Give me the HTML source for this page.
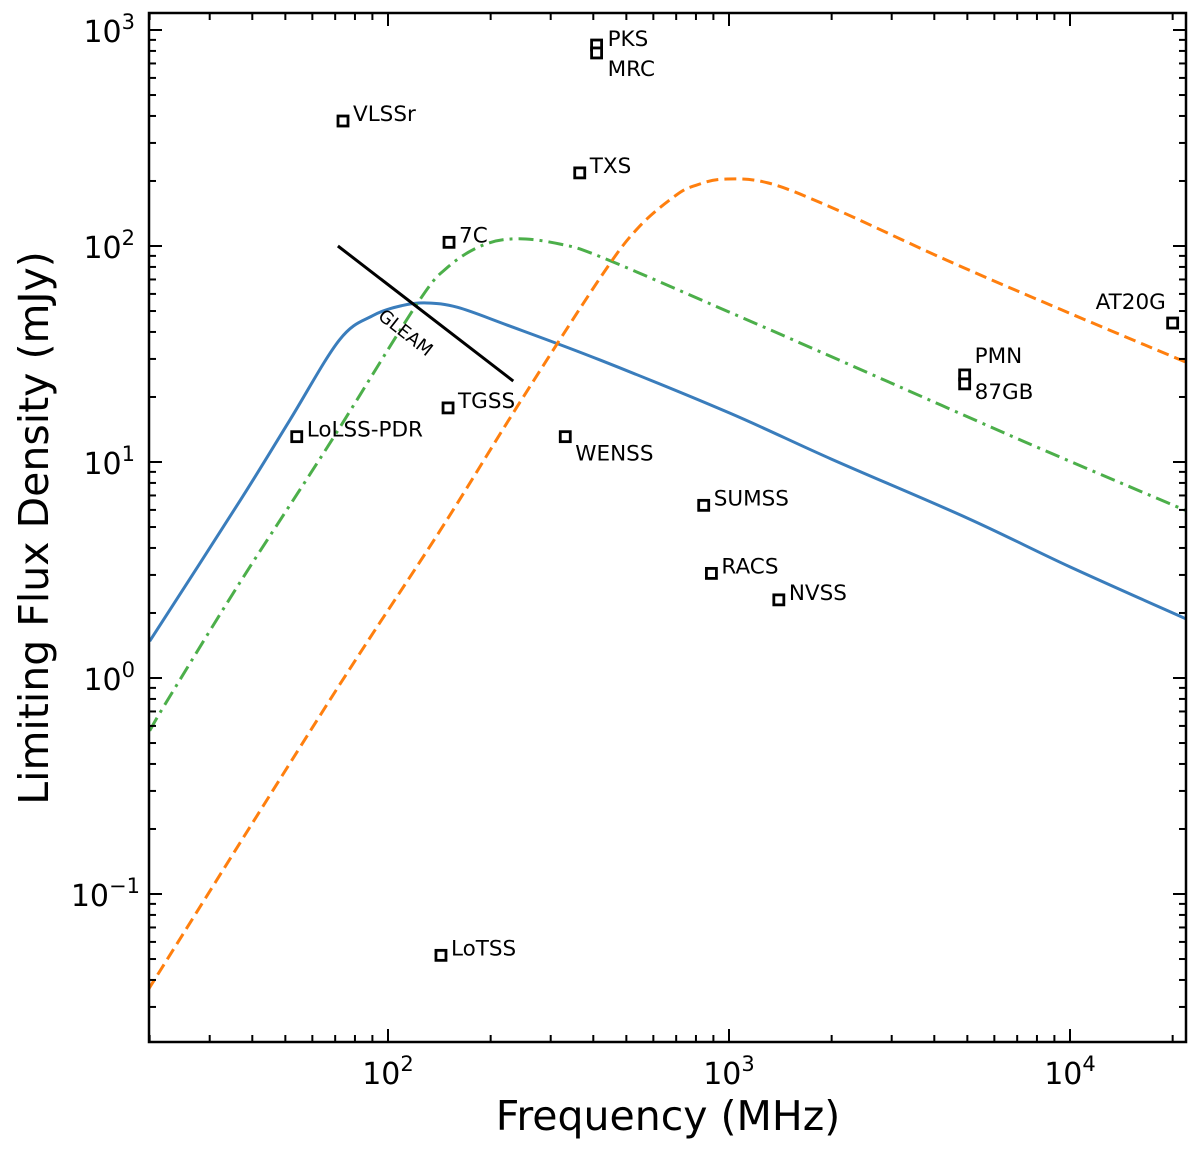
<!DOCTYPE html>
<html><head><meta charset="utf-8"><style>
body{margin:0;background:#fff}
svg{display:block;font-family:"DejaVu Sans","Liberation Sans",sans-serif}
</style></head><body>
<svg id="chart" width="1200" height="1152" viewBox="0 0 1200 1152">
<g id="curves"></g>
<g id="marks"></g>
<g id="axes"></g>
<text x="668" y="1130" font-size="41" text-anchor="middle">Frequency (MHz)</text>
<text transform="translate(48,528) rotate(-90)" font-size="41" text-anchor="middle">Limiting Flux Density (mJy)</text>
</svg>
<script>
const blueF=[20,37,51.5,72,90,110,130,160,224,420,1000,2000,5000,10000,22200];
const blueS=[1.48,6.7,15.6,36.7,47.5,53,54.5,52,43,29.6,16.9,10.3,5.5,3.27,1.86];
const greenF=[20,22.9,36.7,67.5,121.7,150,190,240,320,421,1000,2000,7280,22200];
const greenS=[0.57,0.82,2.75,12.2,54,80,101,108,102,89,49.5,30.7,12.5,5.9];
const orangeF=[19.8,67.5,142,239,421,543,700,800,966,1300,1995,4345,9460,22200];
const orangeS=[0.036,0.79,4.8,18,72,122,172,191,204,196,151,86,50.6,28.7];
const gleamF=[71.3,233];
const gleamS=[100,23.7];
const surveyNames=["VLSSr","PKS","MRC","TXS","7C","TGSS","LoLSS-PDR","WENSS","SUMSS","RACS","NVSS","PMN","87GB","AT20G","LoTSS"];
const surveyF=[73.8,409,409,365,151,150,54,331,843,888,1400,4910,4910,20000,143];
const surveyS=[379,852,783,218,104,17.8,13.1,13.1,6.3,3.05,2.3,25.3,23.0,44,0.052];
const xTickExp=[2,3,4];
const yTickExp=[-1,0,1,2,3];

const L=149,R=1186,T=13,B=1042;
const X=f=>388+341*(Math.log10(f)-2);
const Y=s=>246-216*(Math.log10(s)-2);
const NS="http://www.w3.org/2000/svg";
function mk(tag,attrs,parent){const e=document.createElementNS(NS,tag);for(const k in attrs)e.setAttribute(k,attrs[k]);parent.appendChild(e);return e;}
function path(F,S){
  const p=F.map((f,i)=>[X(f),Y(S[i])]);
  let d="M"+p[0][0]+","+p[0][1];
  for(let i=0;i<p.length-1;i++){
    const p0=p[i-1]||p[i],p1=p[i],p2=p[i+1],p3=p[i+2]||p2;
    const c1=[p1[0]+(p2[0]-p0[0])/6,p1[1]+(p2[1]-p0[1])/6];
    const c2=[p2[0]-(p3[0]-p1[0])/6,p2[1]-(p3[1]-p1[1])/6];
    d+=" C"+c1+" "+c2+" "+p2;
  }
  return d;
}
const cg=document.getElementById("curves");
mk("clipPath",{id:"clip"},cg);
mk("rect",{x:L,y:T,width:R-L,height:B-T},document.getElementById("clip"));
const c1=mk("path",{d:path(blueF,blueS),fill:"none",stroke:"#3a7dbc","stroke-width":3,"clip-path":"url(#clip)"},cg);


const c2=mk("path",{d:path(greenF,greenS),fill:"none",stroke:"#4caf4a","stroke-width":3,"stroke-dasharray":"15,6,3,6","clip-path":"url(#clip)"},cg);


const c3=mk("path",{d:path(orangeF,orangeS),fill:"none",stroke:"#ff7f0e","stroke-width":3,"stroke-dasharray":"12,6","clip-path":"url(#clip)"},cg);


const gl=mk("line",{x1:X(gleamF[0]),y1:Y(gleamS[0]),x2:X(gleamF[1]),y2:Y(gleamS[1]),stroke:"#000","stroke-width":3},cg);


const gt=mk("text",{x:0,y:0,"font-size":18,transform:"translate(377,318) rotate(38)"},cg);
gt.textContent="GLEAM";



const mg=document.getElementById("marks");
const labelOff={"MRC":[11,23],"WENSS":[10,24],"87GB":[10,15],"PMN":[10,-12],"AT20G":[-77,-14],"PKS":[11,1]};
surveyNames.forEach((n,i)=>{
  const x=X(surveyF[i]),y=Y(surveyS[i]);
  const r=mk("rect",{x:x-5,y:y-5,width:10,height:10,fill:"#fff",stroke:"#000","stroke-width":2.8},mg);
  
  
  const o=labelOff[n]||[10,0];
  const t=mk("text",{x:x+o[0],y:y+o[1],"font-size":21.5},mg);
  t.textContent=n;
  
  
});

const ag=document.getElementById("axes");
mk("rect",{x:L,y:T,width:R-L,height:B-T,fill:"none",stroke:"#000","stroke-width":2.5},ag);
for(let e=1;e<=4;e++)for(let m=1;m<10;m++){
  const x=X(m*Math.pow(10,e));if(x<L||x>R)continue;
  const len=m==1?13:7;
  mk("line",{x1:x,y1:B,x2:x,y2:B-len,stroke:"#000","stroke-width":2},ag);
  mk("line",{x1:x,y1:T,x2:x,y2:T+len,stroke:"#000","stroke-width":2},ag);
}
for(let e=-2;e<=3;e++)for(let m=1;m<10;m++){
  const y=Y(m*Math.pow(10,e));if(y<T||y>B)continue;
  const len=m==1?13:7;
  mk("line",{x1:L,y1:y,x2:L+len,y2:y,stroke:"#000","stroke-width":2},ag);
  mk("line",{x1:R,y1:y,x2:R-len,y2:y,stroke:"#000","stroke-width":2},ag);
}
xTickExp.forEach(e=>{
  const t=mk("text",{x:X(Math.pow(10,e)),y:1084,"font-size":30,"text-anchor":"middle"},ag);
  t.innerHTML='10<tspan dy="-13" font-size="21">'+e+'</tspan>';
  
  
});
yTickExp.forEach(e=>{
  const t=mk("text",{x:e<0?140:135,y:Y(Math.pow(10,e))+12,"font-size":30,"text-anchor":"end"},ag);
  t.innerHTML='10<tspan dy="-13" font-size="21">'+(e<0?'\u2212'+(-e):e)+'</tspan>';
  
  
});
</script>
</body></html>
